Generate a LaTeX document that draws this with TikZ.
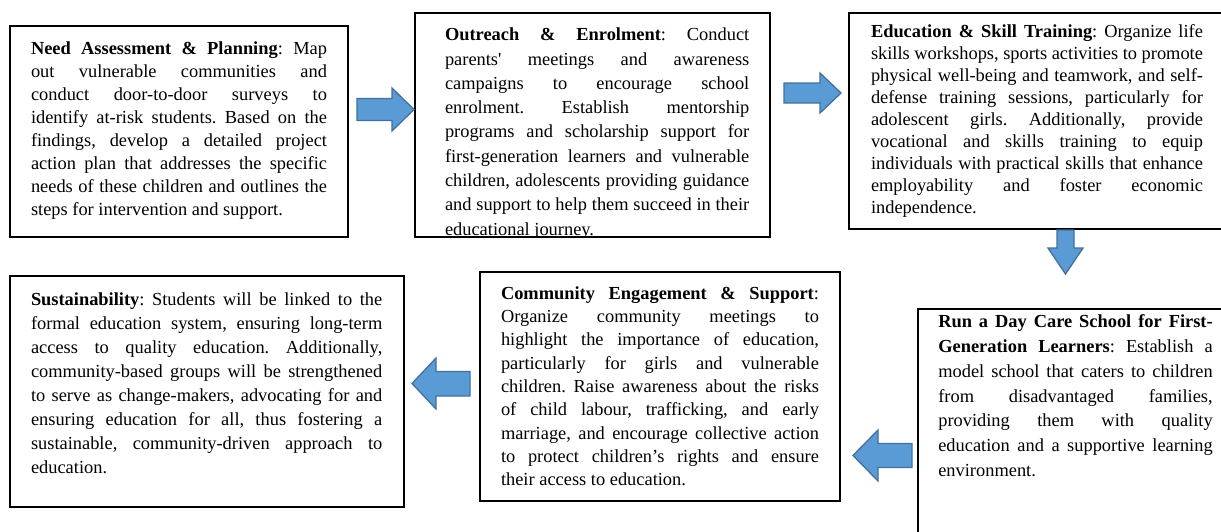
\documentclass[tikz,border=0pt]{standalone}
\usepackage{fontspec}
\setmainfont{Liberation Serif}
\definecolor{arrfill}{HTML}{5B9BD5}
\definecolor{arrline}{HTML}{41719C}
\newlength\tw
\newcommand\jl[1]{\hbox to \tw{#1}}
\newcommand\lastln[1]{\hbox{#1}}
\newcommand\setfnt[2]{\fontsize{18.4}{#2}\selectfont\setlength\tw{#1}\spaceskip=4.6pt plus 60pt minus 1.2pt\relax}
\begin{document}
\frenchspacing
\begin{tikzpicture}[x=1pt,y=-1pt,
  boxst/.style={draw=black, line width=1.5pt, fill=white, inner sep=0pt, outer sep=0pt, anchor=north west},
  txt/.style={anchor=base west, inner sep=0pt, outer sep=0pt},
  blk/.style={fill=arrfill, draw=arrline, line width=1.3pt, line join=miter}]
\useasboundingbox (0,0) rectangle (1221,531);
\clip (0,0) rectangle (1221,531);
\fill[white] (0,0) rectangle (1221,531);

% boxes
\node[boxst, minimum width=338pt, minimum height=211pt] (b1) at (10,26) {};
\node[boxst, minimum width=355pt, minimum height=224pt] (b2) at (415,13) {};
\node[boxst, minimum width=390pt, minimum height=216pt] (b3) at (849,13) {};
\node[boxst, minimum width=320pt, minimum height=240pt] (b4) at (918,309) {};
\node[boxst, minimum width=360pt, minimum height=229pt] (b5) at (480,272) {};
\node[boxst, minimum width=394pt, minimum height=231pt] (b6) at (10,276) {};

% texts
\node[txt, font=\setfnt{296pt}{23.1}] (t1) at (31,54) {\vtop{%
\jl{\textbf{Need Assessment \& Planning}: Map}
\jl{out vulnerable communities and}
\jl{conduct door-to-door surveys to}
\jl{identify at-risk students. Based on the}
\jl{findings, develop a detailed project}
\jl{action plan that addresses the specific}
\jl{needs of these children and outlines the}
\lastln{steps for intervention and support.}}};

\begin{scope}
\clip (415,13) rectangle (770,236.3);
\node[txt, font=\setfnt{304.3pt}{24.3}] (t2) at (445,40.7) {\vtop{%
\jl{\textbf{Outreach \& Enrolment}: Conduct}
\jl{parents\textquotesingle{} meetings and awareness}
\jl{campaigns to encourage school}
\jl{enrolment. Establish mentorship}
\jl{programs and scholarship support for}
\jl{first-generation learners and vulnerable}
\jl{children, adolescents providing guidance}
\jl{and support to help them succeed in their}
\lastln{educational journey.}}};
\end{scope}

\node[txt, font=\setfnt{332pt}{22.1}] (t3) at (871,37) {\vtop{%
\jl{\textbf{Education \& Skill Training}: Organize life}
\jl{skills workshops, sports activities to promote}
\jl{physical well-being and teamwork, and self-}
\jl{defense training sessions, particularly for}
\jl{adolescent girls. Additionally, provide}
\jl{vocational and skills training to equip}
\jl{individuals with practical skills that enhance}
\jl{employability and foster economic}
\lastln{independence.}}};

\node[txt, font=\setfnt{274.4pt}{24.9}] (t4) at (938.3,327.3) {\vtop{%
\jl{\textbf{Run a Day Care School for First-}}
\jl{\textbf{Generation Learners}: Establish a}
\jl{model school that caters to children}
\jl{from disadvantaged families,}
\jl{providing them with quality}
\jl{education and a supportive learning}
\lastln{environment.}}};

\node[txt, font=\setfnt{318pt}{23.3}] (t5) at (501,299.3) {\vtop{%
\jl{\textbf{Community Engagement \& Support}:}
\jl{Organize community meetings to}
\jl{highlight the importance of education,}
\jl{particularly for girls and vulnerable}
\jl{children. Raise awareness about the risks}
\jl{of child labour, trafficking, and early}
\jl{marriage, and encourage collective action}
\jl{to protect children’s rights and ensure}
\lastln{their access to education.}}};

\node[txt, font=\setfnt{351.3pt}{24.0}] (t6) at (31,305) {\vtop{%
\jl{\textbf{Sustainability}: Students will be linked to the}
\jl{formal education system, ensuring long-term}
\jl{access to quality education. Additionally,}
\jl{community-based groups will be strengthened}
\jl{to serve as change-makers, advocating for and}
\jl{ensuring education for all, thus fostering a}
\jl{sustainable, community-driven approach to}
\lastln{education.}}};

% block arrows
\draw[blk] (357,98.5) -- (392,98.5) -- (392,88) -- (414,109.5) -- (392,131) -- (392,120.5) -- (357,120.5) -- cycle;
\draw[blk] (784,83) -- (820,83) -- (820,73) -- (841,93) -- (820,113) -- (820,103) -- (784,103) -- cycle;
\draw[blk] (1057,230) -- (1074,230) -- (1074,248) -- (1083,248) -- (1065.5,274) -- (1048,248) -- (1057,248) -- cycle;
\draw[blk] (912,443.5) -- (878,443.5) -- (878,430) -- (853,455.5) -- (878,481) -- (878,467.5) -- (912,467.5) -- cycle;
\draw[blk] (470,371.5) -- (436,371.5) -- (436,358) -- (412,383.5) -- (436,409) -- (436,396) -- (470,396) -- cycle;
\end{tikzpicture}
\end{document}
